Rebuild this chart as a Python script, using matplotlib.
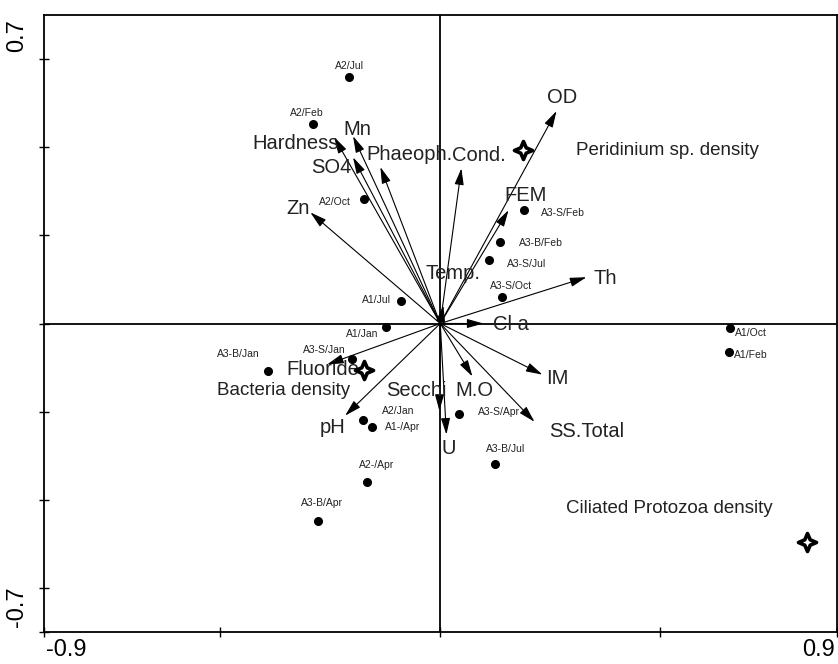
import matplotlib
matplotlib.use("Agg")
import matplotlib.pyplot as plt
from matplotlib.path import Path

plt.rcParams['font.family'] = ['Liberation Sans', 'DejaVu Sans']

# environmental variables (arrow tips, CCA axis 1 / axis 2)
env_names = ["OD", "Cond.", "Phaeoph.", "Mn", "Hardness", "SO4", "Zn", "FEM", "Temp.",
             "Th", "Cl a", "IM", "SS.Total", "M.O", "U", "Secchi", "Fluoride", "pH"]
env_x = [0.264, 0.048, -0.136, -0.198, -0.241, -0.198, -0.295, 0.155, 0.007,
         0.332, 0.098, 0.232, 0.214, 0.073, 0.014, -0.002, -0.257, -0.216]
env_y = [0.482, 0.352, 0.355, 0.425, 0.423, 0.377, 0.252, 0.257, 0.041,
         0.105, 0.0, -0.116, -0.223, -0.120, -0.252, -0.198, -0.093, -0.209]

# sample sites
site_names = ["A2/Jul", "A2/Feb", "A2/Oct", "A3-S/Feb", "A3-B/Feb", "A3-S/Jul", "A3-S/Oct",
              "A1/Jul", "A1/Jan", "A3-S/Jan", "A3-B/Jan", "A2/Jan", "A1-/Apr", "A2-/Apr",
              "A3-B/Apr", "A3-S/Apr", "A3-B/Jul", "A1/Oct", "A1/Feb"]
site_x = [-0.207, -0.289, -0.173, 0.191, 0.136, 0.111, 0.141, -0.089, -0.123, -0.200,
          -0.391, -0.175, -0.155, -0.166, -0.277, 0.043, 0.125, 0.659, 0.655]
site_y = [0.559, 0.452, 0.282, 0.257, 0.184, 0.143, 0.059, 0.052, -0.009, -0.080,
          -0.107, -0.218, -0.234, -0.359, -0.448, -0.205, -0.318, -0.011, -0.064]

# species
sp_names = ["Peridinium sp. density", "Bacteria density", "Ciliated Protozoa density"]
sp_x = [0.189, -0.173, 0.832]
sp_y = [0.393, -0.105, -0.495]

# label offsets in pixels (layout only)
env_off = {"OD": (6, 14), "Cond.": (17, 13), "Phaeoph.": (29, 13), "Mn": (4, 7),
           "Hardness": (-39, -6), "SO4": (-22, -10), "Zn": (-12, 4), "FEM": (17, 15),
           "Temp.": (10, 32), "Th": (19, -1), "Cl a": (28, -1), "IM": (15, -4),
           "SS.Total": (52, -10), "M.O": (2, -14), "U": (2, -14), "Secchi": (-23, 20),
           "Fluoride": (-4, -5), "pH": (-13, -12)}
site_off = {"A2/Jul": (0, 11), "A2/Feb": (-6, 11), "A2/Oct": (-29, -3), "A3-S/Feb": (39, -3),
            "A3-B/Feb": (41, -1), "A3-S/Jul": (37, -4), "A3-S/Oct": (9, 11), "A1/Jul": (-25, 1),
            "A1/Jan": (-24, -7), "A3-S/Jan": (-28, 9), "A3-B/Jan": (-30, 17), "A2/Jan": (35, 9),
            "A1-/Apr": (31, 0), "A2-/Apr": (9, 17), "A3-B/Apr": (4, 18), "A3-S/Apr": (40, 2),
            "A3-B/Jul": (10, 15), "A1/Oct": (21, -5), "A1/Feb": (22, -3)}
sp_off = [(144, 0), (-81, -21), (-137, 33)]

fig = plt.figure(figsize=(8.38, 6.64), dpi=100)
ax = fig.add_axes([44 / 838, 32 / 664, 792.5 / 838, 617 / 664])
ax.set_xlim(-0.9, 0.9)
ax.set_ylim(-0.7, 0.7)

# axis cross
ax.axhline(0, color='black', lw=1.3, zorder=1)
ax.axvline(0, color='black', lw=1.3, zorder=1)

# arrows
for name, x, y in zip(env_names, env_x, env_y):
    ax.annotate("", xy=(x, y), xytext=(0, 0),
                arrowprops=dict(arrowstyle='-|>,head_length=1.0,head_width=0.28',
                                color='black', lw=0.8, shrinkA=0, shrinkB=0,
                                mutation_scale=10))
    dx, dy = env_off[name]
    ax.annotate(name, xy=(x, y), xytext=(dx, dy), textcoords='offset pixels',
                ha='center', va='center', fontsize=14.5, color='#222222')

# sites
ax.plot(site_x, site_y, 'o', color='black', ms=5.5, zorder=3)
for name, x, y in zip(site_names, site_x, site_y):
    dx, dy = site_off[name]
    ax.annotate(name, xy=(x, y), xytext=(dx, dy), textcoords='offset pixels',
                ha='center', va='center', fontsize=7.5, color='#222222')

# species stars
a = 0.3
star = Path([(0, 1), (a, a), (1, 0), (a, -a), (0, -1), (-a, -a), (-1, 0), (-a, a), (0, 1)],
            [Path.MOVETO] + [Path.LINETO] * 7 + [Path.CLOSEPOLY])
ax.plot(sp_x, sp_y, linestyle='none', marker=star, ms=13, mfc='white', mec='black',
        mew=2.6, zorder=4)
for name, x, y, (dx, dy) in zip(sp_names, sp_x, sp_y, sp_off):
    ax.annotate(name, xy=(x, y), xytext=(dx, dy), textcoords='offset pixels',
                ha='center', va='center', fontsize=13.5, color='#222222')

# frame and ticks
for s in ax.spines.values():
    s.set_linewidth(1.3)
ax.set_xticks([-0.9, -0.5, 0, 0.5, 0.9])
ax.set_yticks([-0.7, -0.6, -0.4, -0.2, 0, 0.2, 0.4, 0.6])
ax.tick_params(direction='inout', length=7, width=1, labelbottom=False, labelleft=False)

fig.text(66 / 838, 1 - 650 / 664, "-0.9", fontsize=17, ha='center', va='center')
fig.text(818 / 838, 1 - 650 / 664, "0.9", fontsize=17, ha='center', va='center')
fig.text(17 / 838, 1 - 36 / 664, "0.7", fontsize=17, ha='center', va='center', rotation=90)
fig.text(17 / 838, 1 - 607 / 664, "-0.7", fontsize=17, ha='center', va='center', rotation=90)

fig.savefig("out.png", dpi=100)
